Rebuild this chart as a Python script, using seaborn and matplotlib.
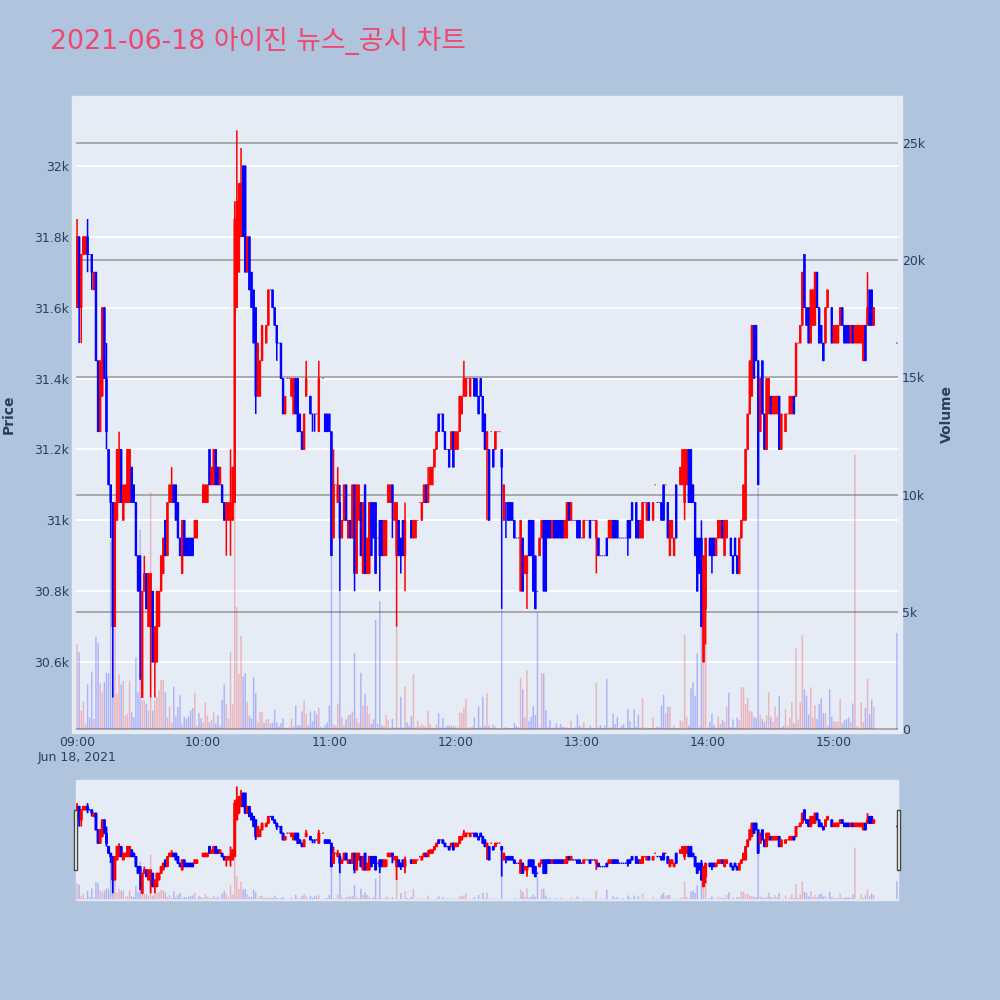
import numpy as np
import pandas as pd
import matplotlib
matplotlib.use("Agg")
import matplotlib.pyplot as plt
from matplotlib.patches import Rectangle
import seaborn as sns

# Minute bars, index = minutes after 09:00 (None = no trade)
opens = [
    31600,31800,31600,31750,31750,31800,31750,31750,31650,31700,
    31450,31250,31350,31600,31400,31200,31100,31050,30700,31000,
    31050,31200,31000,31050,31050,31050,31150,31100,31050,30900,
    30900,30500,30800,30850,30700,30700,30800,30600,30600,30700,
    30800,30850,31000,30900,31050,31050,31100,31100,31050,30950,
    30850,31000,30950,30950,30950,30950,30950,30950,None,None,
    31050,31050,31050,31200,31100,31100,31200,31150,31100,31100,
    31050,31000,31000,31000,31000,31050,31600,31700,31800,32000,
    32000,31700,31800,31700,31650,31600,31350,31350,31450,None,
    31500,31550,31650,31650,31600,31550,31500,31500,31400,31300,
    31400,31400,31350,31300,31400,31400,31300,31250,31200,31350,
    None,31350,31300,31300,31300,31250,None,31400,31300,31300,
    31300,31250,30950,31100,31050,31050,30950,31000,31100,30950,
    31000,30950,31100,30850,31000,31050,30850,31100,30850,30850,
    31050,31050,31050,30950,31000,31000,30900,30900,31050,31050,
    31100,31000,30900,31000,30950,31000,30900,None,None,31000,
    30950,30950,31000,31050,31000,31050,31100,31050,31100,31100,
    31150,31200,31300,31300,31300,31250,31200,31200,31200,31250,
    31200,31200,31250,31300,31350,31350,31400,31350,31400,31400,
    31400,31350,31400,31350,31300,31200,31200,31250,31200,31200,
    31250,31250,31200,31000,31050,31050,31050,31050,31000,30950,
    30950,30800,30950,30850,30850,31000,31000,31000,30900,30800,
    30900,30950,31000,31000,31000,31000,30950,31000,31000,31000,
    31000,31000,30950,30950,31050,31000,31000,31000,31000,31000,
    30950,30950,31000,31000,31000,31000,31000,30950,30950,30900,
    30900,30900,30950,30950,30950,31000,31000,31000,30950,30950,
    30950,30950,31000,31000,31050,None,31050,31000,30950,30950,
    31050,31000,31050,None,31000,31100,31050,31050,31050,31100,
    31100,31050,30900,30950,30900,31100,None,31100,31100,31050,
    31100,31200,31200,31100,31050,30950,30950,30950,30600,30750,
    None,30950,30950,30950,30900,30950,30950,31000,30900,30950,
    None,30950,30900,30950,30900,30850,30950,31000,31000,31200,
    31300,31350,31550,31550,31450,31250,31450,31300,31200,31300,
    31350,31300,31300,31300,31350,31200,None,31250,31300,31300,
    31300,31350,31350,31500,31500,31550,31750,31600,31600,31500,
    31550,31550,31700,31600,31550,31500,31500,31600,None,31600,
    31500,31500,31500,31550,31600,31550,31550,31550,31500,31550,
    31500,31500,31500,31500,31450,31550,31550,31650,31650,31550,
    None,None,None,None,None,None,None,None,None,None,31500]
closes = [
    31800,31600,31750,31800,31800,31750,31750,31700,31700,31450,
    31250,31450,31600,31400,31250,31100,31050,30700,31050,31200,
    31200,31050,31100,31100,31200,31200,31050,31050,30900,30800,
    30800,30800,30850,30750,30850,30850,30600,30700,30800,30800,
    30900,30950,30900,31050,31100,31100,31050,31000,30950,30900,
    31000,30900,30900,30900,30900,30900,31000,31000,None,None,
    31100,31100,31100,31100,31150,31200,31100,31100,31150,31050,
    31000,31050,31050,31050,31150,31850,31900,31950,31950,31800,
    31700,31800,31650,31600,31500,31350,31500,31450,31550,None,
    31550,31650,31650,31600,31550,31500,31500,31400,31300,31350,
    31400,31400,31400,31400,31300,31250,31250,31200,31300,31400,
    None,31300,31300,31300,31300,31400,None,31400,31250,31250,
    31250,30900,31100,31100,31100,30950,31000,31100,31000,31000,
    30950,31100,30850,31100,31100,30900,31050,30850,30950,31050,
    30900,30950,30850,30950,30900,30900,31000,31000,31100,31100,
    31050,31050,31050,30900,30900,30900,31000,None,None,30950,
    31000,31000,31000,31050,31050,31100,31050,31100,31150,31150,
    31200,31250,31250,31300,31250,31200,31200,31150,31250,31150,
    31250,31250,31350,31350,31400,31400,31400,31400,31400,31350,
    31350,31300,31350,31250,31200,31250,31000,31250,31150,31250,
    31250,31250,31150,31100,31050,31000,31000,31000,30950,30950,
    30950,31000,30800,30900,30900,30900,30900,30800,30750,30800,
    30950,31000,30800,30800,30950,30950,31000,30950,30950,30950,
    30950,30950,31000,31050,31000,31050,31000,31000,30950,30950,
    30950,31000,31000,31000,30950,31000,31000,31000,30900,30900,
    30900,30900,30900,31000,31000,30950,30950,30950,30950,30950,
    30950,30950,30950,30950,31000,None,30950,30950,31000,31050,
    31050,31050,31000,None,31050,31100,31050,31050,31000,31000,
    31100,30950,31000,31000,30950,30950,None,31150,31200,31200,
    31200,31050,31050,31050,30900,30800,30850,30700,30900,30950,
    None,30900,30900,30900,30950,31000,31000,30950,31000,31000,
    None,30900,30850,30900,30850,30950,31000,31100,31200,31300,
    31450,31550,31400,31450,31100,31400,31300,31200,31400,31400,
    31300,31350,31350,31350,31200,31300,None,31300,31300,31350,
    31350,31300,31500,31500,31550,31700,31600,31550,31500,31650,
    31650,31700,31600,31500,31500,31450,31600,31650,None,31500,
    31550,31550,31550,31600,31550,31500,31500,31500,31550,31500,
    31550,31550,31550,31550,31550,31450,31600,31550,31550,31600,
    None,None,None,None,None,None,None,None,None,None,31500]
# wicks that stick out of the body
wick_highs = {0:31850,5:31850,14:31500,20:31250,32:30900,45:31150,73:31200,75:31900,
              76:32100,78:32050,109:31450,115:31450,122:31200,124:31150,125:31100,
              156:31050,167:31150,184:31450,297:31000,376:31700}
wick_lows = {1:31500,2:31500,5:31700,7:31650,14:31200,16:30950,17:30500,30:30550,35:30500,
             37:30500,71:30900,73:30900,85:31300,95:31450,112:31250,113:31250,125:30800,
             132:30800,144:30800,150:30950,152:30700,154:30850,156:30800,195:31000,
             202:30750,204:30950,214:30750,247:30850,262:30900,289:31000,299:30650,302:30850}
doji_red = [100,101,117,123,143,162,163,173,186,188,197,200,201,242,243,270,275,280,338,343]
volumes = [
    3620,3270,780,1160,240,1900,500,2450,430,3930,
    3660,1950,1560,2000,2400,2370,8000,4300,4260,1520,
    2340,1900,2060,570,670,2060,710,500,3050,1560,
    8500,1220,1220,1080,790,10100,790,1200,1370,1650,
    2090,2090,1560,500,980,250,1800,530,940,1440,
    240,530,430,530,790,890,1540,140,680,460,
    290,1120,580,290,400,720,240,580,140,1250,
    1900,1080,450,3300,1080,11000,5200,2350,3980,2240,
    2370,1160,580,450,2200,1530,280,710,750,250,
    415,415,250,280,830,280,120,250,450,50,
    50,80,450,120,1000,160,160,750,1200,660,
    160,750,330,780,610,910,80,50,160,280,
    1000,7340,215,160,1080,5850,500,160,415,580,
    620,750,3240,460,250,2400,1000,1500,1000,630,
    215,415,4650,215,5450,160,140,610,400,70,
    430,70,4500,70,1380,70,1820,280,140,540,
    2340,70,350,100,200,140,70,780,200,70,
    40,200,680,70,470,70,140,140,140,140,
    100,70,710,680,920,1280,70,70,100,500,
    40,970,70,1380,140,1530,140,40,180,100,
    40,40,5100,70,70,40,40,40,260,140,
    70,2170,1700,500,2510,350,520,970,600,4970,
    70,2390,2370,810,70,380,40,70,240,70,
    210,100,70,70,40,350,40,70,610,140,
    70,280,40,40,140,40,40,1960,70,170,
    40,140,2130,70,70,670,210,525,40,140,
    210,40,850,330,40,850,100,610,70,1320,
    70,70,40,40,500,40,110,70,1000,1460,
    670,950,950,40,140,40,40,380,330,4020,
    525,140,1730,1990,1410,3230,70,4400,3000,3700,
    70,310,670,170,70,525,210,380,310,950,
    1550,70,410,70,480,380,1780,1780,1070,1330,
    770,740,525,480,10300,600,430,310,600,1560,
    525,310,950,525,1400,70,130,850,130,480,
    1160,240,3440,410,1130,4000,1700,1420,620,1780,
    480,1020,430,1050,1300,670,670,130,1700,525,
    340,310,310,1300,240,380,410,480,310,1090,
    11700,130,70,1130,310,900,2150,640,1260,950,
    0,0,0,0,0,0,0,0,0,0,4100]
hour_labels = ["09:00\nJun 18, 2021","10:00","11:00","12:00","13:00","14:00","15:00"]
hour_ticks = [0,60,120,180,240,300,360]
price_ticks = [30600,30800,31000,31200,31400,31600,31800,32000]
price_labels = ["30.6k","30.8k","31k","31.2k","31.4k","31.6k","31.8k","32k"]
volume_ticks = [0,5000,10000,15000,20000,25000]
volume_labels = ["0","5k","10k","15k","20k","25k"]

PAPER = "#B0C4DE"
PLOT = "#E5ECF6"
INK = "#2a3f5f"
RED = "#ff0000"
BLUE = "#0000ff"

rows = []
for m, (o, c, v) in enumerate(zip(opens, closes, volumes)):
    up = False
    if o is not None:
        up = c > o or (c == o and m in doji_red)
    rows.append(dict(minute=m, open=o, close=c, volume=v, side="up" if up else "down"))
df = pd.DataFrame(rows)

sns.set_theme(style="white")
plt.rcParams["font.family"] = ["DejaVu Sans"]
fig = plt.figure(figsize=(10, 10), dpi=100, facecolor=PAPER)


def box(x0, y0, x1, y1):
    # pixel box (top-left origin) to figure fractions
    return [x0 / 1000, 1 - y1 / 1000, (x1 - x0) / 1000, (y1 - y0) / 1000]


def draw_panel(rect, whisker_lw, body_lw, body_w):
    ax_vol = fig.add_axes(rect)
    ax_price = ax_vol.twinx()
    ax_vol.set_zorder(2)
    ax_price.set_zorder(3)
    ax_price.patch.set_visible(False)
    ax_vol.patch.set_visible(False)

    sns.barplot(data=df[df.volume > 0], x="minute", y="volume", hue="side", native_scale=True,
                palette={"up": RED, "down": BLUE}, dodge=False, legend=False, errorbar=None,
                saturation=1, width=0.7, alpha=0.24, linewidth=0, ax=ax_vol)
    for bar in ax_vol.patches:
        bar.set_snap(False)

    for row in df.dropna(subset=["open"]).itertuples():
        col = RED if row.side == "up" else BLUE
        lo = min(row.open, row.close, wick_lows.get(row.minute, 1e9))
        hi = max(row.open, row.close, wick_highs.get(row.minute, 0))
        wick = ax_price.vlines(row.minute, lo, hi, color=col, lw=whisker_lw, zorder=2)
        wick.set_snap(False)
        bars = ax_price.bar(row.minute, abs(row.close - row.open), bottom=min(row.open, row.close),
                            width=body_w, color=col, edgecolor=col, linewidth=body_lw, zorder=3)
        bars[0].set_snap(False)

    ax_vol.set_xlim(-0.5, 390.5)
    ax_vol.set_ylim(-170, 27000)
    ax_price.set_ylim(30400, 32197)
    for side in ["top", "bottom", "left", "right"]:
        ax_vol.spines[side].set_visible(False)
        ax_price.spines[side].set_visible(False)
    ax_vol.set_xlabel("")
    ax_vol.set_ylabel("")
    return ax_vol, ax_price


# backgrounds that are wider than the data area
fig.add_artist(Rectangle((0.072, 1 - 0.733), 0.830, 0.637, transform=fig.transFigure, color=PLOT, zorder=-5))
fig.add_artist(Rectangle((0.076, 1 - 0.900), 0.822, 0.120, transform=fig.transFigure, color=PLOT, zorder=-5))

# main chart
ax_vol, ax_price = draw_panel(box(76, 96, 898, 733), 1.1, 0.6, 0.75)
ax_vol.yaxis.tick_right()
ax_price.yaxis.tick_left()
ax_vol.set_axisbelow(True)
ax_vol.grid(axis="y", color="#a9a9a9", lw=1.4)
ax_vol.grid(axis="x", visible=False)
for p in price_ticks:
    ax_vol.plot([0, 1], [p, p], transform=ax_price.get_yaxis_transform(), color="white", lw=1.3, zorder=0.4)
ax_vol.set_yticks(volume_ticks, volume_labels)
ax_price.set_yticks(price_ticks, price_labels)
ax_vol.set_xticks(hour_ticks, hour_labels)
ax_vol.tick_params(axis="x", length=0, pad=2, labelsize=9, colors=INK)
ax_vol.tick_params(axis="y", length=0, pad=3, labelsize=9, colors=INK)
ax_price.tick_params(axis="y", length=0, pad=5, labelsize=9, colors=INK)

# range slider
s_vol, s_price = draw_panel(box(76, 780, 898, 900), 1.3, 1.0, 0.75)
s_vol.set_xticks([])
s_vol.set_yticks([])
s_price.set_yticks([])

for x0 in [73.5, 896.5]:
    fig.add_artist(Rectangle((x0 / 1000, 1 - 0.870), 0.0035, 0.060, transform=fig.transFigure,
                             facecolor="white", edgecolor="#444444", lw=1, zorder=6))

fig.text(0.050, 1 - 0.049, "2021-06-18 아이진 뉴스_공시 차트", fontsize=19.3, color="#EF476F",
         family=["DejaVu Sans", "Noto Sans CJK KR"], ha="left", va="baseline")
fig.text(0.009, 1 - 0.414, "Price", fontsize=10, fontweight="bold", color=INK, rotation=90, ha="center", va="center")
fig.text(0.947, 1 - 0.414, "Volume", fontsize=10, fontweight="bold", color=INK, rotation=90, ha="center", va="center")

fig.savefig("out.png", dpi=100, facecolor=PAPER)
